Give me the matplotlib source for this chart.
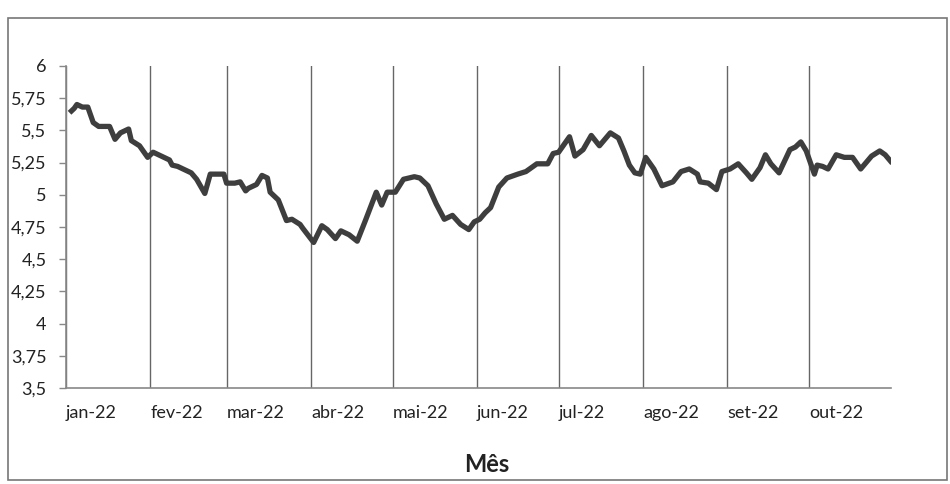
import numpy as np
import pandas as pd
import matplotlib
matplotlib.use('Agg')
import matplotlib.pyplot as plt
import matplotlib.dates as mdates
from matplotlib.ticker import FuncFormatter, MultipleLocator
from matplotlib.patches import Rectangle

# Cotação (dd-mm de 2022)
DATES = [
    '01-03', '01-04', '01-05', '01-07', '01-09', '01-11', '01-13', '01-17', '01-19', '01-21',
    '01-24', '01-25', '01-28', '01-31', '02-02', '02-04', '02-08', '02-09', '02-11', '02-14',
    '02-16', '02-18', '02-21', '02-23', '02-25', '02-28', '03-01', '03-04', '03-06', '03-08',
    '03-09', '03-12', '03-14', '03-16', '03-17', '03-20', '03-23', '03-25', '03-28', '03-29',
    '04-02', '04-05', '04-07', '04-10', '04-12', '04-15', '04-18', '04-21', '04-25', '04-27',
    '04-29', '05-02', '05-05', '05-09', '05-11', '05-14', '05-17', '05-20', '05-23', '05-26',
    '05-29', '05-31', '06-02', '06-04', '06-06', '06-09', '06-12', '06-16', '06-19', '06-23',
    '06-27', '06-29', '07-01', '07-04', '07-05', '07-07', '07-10', '07-13', '07-16', '07-20',
    '07-23', '07-25', '07-27', '07-29', '07-31', '08-02', '08-05', '08-08', '08-12', '08-15',
    '08-18', '08-21', '08-22', '08-25', '08-28', '08-30', '09-02', '09-05', '09-08', '09-10',
    '09-13', '09-15', '09-17', '09-20', '09-24', '09-26', '09-28', '09-30', '10-03', '10-04',
    '10-06', '10-08', '10-11', '10-14', '10-17', '10-20', '10-24', '10-27', '10-29', '10-31',
]
VALUES = [
    5.65, 5.67, 5.70, 5.68, 5.68, 5.56, 5.53, 5.53, 5.43, 5.48,
    5.51, 5.42, 5.38, 5.29, 5.33, 5.31, 5.27, 5.23, 5.22, 5.19,
    5.17, 5.12, 5.01, 5.16, 5.16, 5.16, 5.09, 5.09, 5.10, 5.03,
    5.05, 5.08, 5.15, 5.13, 5.02, 4.96, 4.80, 4.81, 4.77, 4.74,
    4.63, 4.76, 4.73, 4.66, 4.72, 4.69, 4.64, 4.80, 5.02, 4.92,
    5.02, 5.02, 5.12, 5.14, 5.13, 5.07, 4.93, 4.81, 4.84, 4.77,
    4.73, 4.79, 4.81, 4.86, 4.90, 5.06, 5.13, 5.16, 5.18, 5.24,
    5.24, 5.32, 5.33, 5.42, 5.45, 5.30, 5.35, 5.46, 5.38, 5.48,
    5.44, 5.34, 5.23, 5.17, 5.16, 5.29, 5.20, 5.07, 5.10, 5.18,
    5.20, 5.16, 5.10, 5.09, 5.04, 5.18, 5.20, 5.24, 5.17, 5.12,
    5.21, 5.31, 5.24, 5.17, 5.35, 5.37, 5.41, 5.34, 5.16, 5.23,
    5.22, 5.20, 5.31, 5.29, 5.29, 5.20, 5.30, 5.34, 5.31, 5.26,
]
MONTH_LABELS = ['jan-22', 'fev-22', 'mar-22', 'abr-22', 'mai-22',
                'jun-22', 'jul-22', 'ago-22', 'set-22', 'out-22']

dates = pd.to_datetime(['2022-' + d for d in DATES])
month_starts = pd.date_range('2022-01-01', periods=len(MONTH_LABELS), freq='MS')

plt.rcParams['font.family'] = ['Lato', 'DejaVu Sans']

fig = plt.figure(figsize=(9.5, 4.84), dpi=100)
ax = fig.add_axes([0.0695, 0.198, 0.868, 0.666])

ax.plot(dates, VALUES, color='#3e3e3e', lw=3.8, solid_joinstyle='round')

ax.set_ylim(3.5, 6)
ax.yaxis.set_major_locator(MultipleLocator(0.25))
ax.yaxis.set_major_formatter(FuncFormatter(lambda v, p: f"{v:g}".replace('.', ',')))
ax.set_xlim(pd.Timestamp('2022-01-01'), pd.Timestamp('2022-10-31'))
ax.set_xticks(month_starts)
ax.set_xticklabels(MONTH_LABELS)
for lbl in ax.get_xticklabels():
    lbl.set_ha('left')

ax.grid(axis='x', color='#666666', lw=1.0)
ax.tick_params(axis='x', length=0, pad=12, labelsize=13, colors='#222222')
ax.tick_params(axis='y', length=5, width=1, color='#888888', pad=9, labelsize=13, labelcolor='#222222')
for s in ('top', 'right'):
    ax.spines[s].set_visible(False)
for s in ('left', 'bottom'):
    ax.spines[s].set_color('#888888')
    ax.spines[s].set_linewidth(1.2)

ax.set_xlabel('Mês', fontsize=17, fontweight='bold', color='#222222', labelpad=18)
ax.xaxis.set_label_coords(0.51, -0.2)

# moldura do gráfico
fig.patches.append(Rectangle((0.0084, 0.008), 0.988, 0.955, transform=fig.transFigure,
                             fill=False, edgecolor='#777777', lw=1.2))

fig.savefig('out.png', dpi=100)
